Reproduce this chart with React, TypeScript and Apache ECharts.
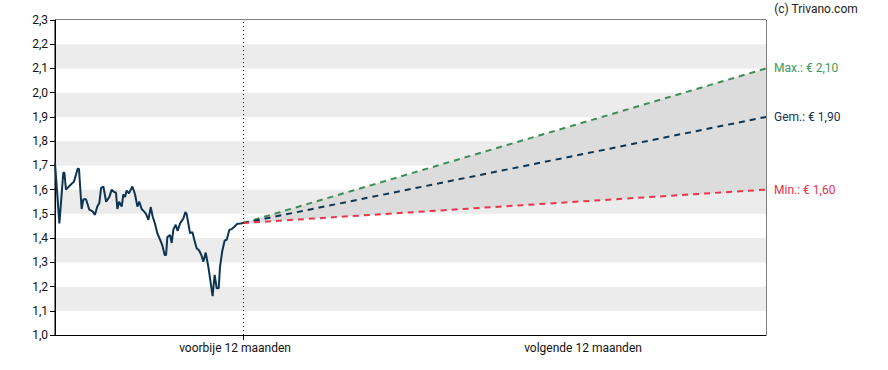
import React, { useEffect, useRef } from "react";
import * as echarts from "echarts";

// x in months since start of the past 12-month window
const historyMonths = [
  0, 0.28, 0.53, 0.6, 0.7, 1.0, 1.21, 1.45, 1.53, 1.7, 1.81, 1.98, 2.19, 2.4, 2.55, 2.7, 2.83, 2.94, 3.09,
  3.26, 3.47, 3.62, 3.77, 3.89, 3.98, 4.09, 4.26, 4.36, 4.47, 4.57, 4.72, 4.94, 5.11, 5.26, 5.38, 5.53,
  5.68, 5.81, 5.96, 6.11, 6.23, 6.38, 6.53, 6.7, 6.85, 7.0, 7.09, 7.17, 7.34, 7.45, 7.55, 7.7, 7.83, 7.98,
  8.13, 8.19, 8.32, 8.4, 8.51, 8.62, 8.77, 8.89, 9.04, 9.19, 9.34, 9.47, 9.62, 9.79, 9.94, 10.06, 10.19,
  10.32, 10.45, 10.53, 10.68, 10.83, 10.96, 11.13, 11.28, 11.45, 11.64, 11.85, 12.0,
];
const historyPrices = [
  1.71, 1.46, 1.67, 1.67, 1.6, 1.62, 1.633, 1.686, 1.686, 1.52, 1.56, 1.56, 1.517, 1.51, 1.496, 1.53, 1.545,
  1.606, 1.613, 1.55, 1.57, 1.6, 1.59, 1.588, 1.52, 1.55, 1.53, 1.58, 1.57, 1.596, 1.585, 1.613, 1.58, 1.53,
  1.55, 1.52, 1.51, 1.5, 1.475, 1.528, 1.49, 1.46, 1.42, 1.395, 1.37, 1.33, 1.33, 1.404, 1.413, 1.38, 1.434,
  1.455, 1.43, 1.46, 1.475, 1.48, 1.507, 1.5, 1.46, 1.42, 1.425, 1.393, 1.358, 1.35, 1.33, 1.303, 1.34, 1.28,
  1.214, 1.16, 1.248, 1.193, 1.193, 1.28, 1.348, 1.39, 1.393, 1.434, 1.437, 1.447, 1.459, 1.46, 1.462,
];

const forecastStart = 12;
const forecastEnd = 45.38;
const lastPrice = 1.462;
const targetMax = 2.1;
const targetAvg = 1.9;
const targetMin = 1.6;

const yTicks = { min: 1.0, max: 2.3, interval: 0.1 };
const xLabelPositions = [11.49, 33.7];
const xLabelTexts = ["voorbije 12 maanden", "volgende 12 maanden"];
const dividerMonth = 12;

const FONT = "Roboto";
const fmtEuro = (v: number) => "€ " + v.toFixed(2).replace(".", ",");

export default function App() {
  const ref = useRef<HTMLDivElement>(null);
  useEffect(() => {
    if (!ref.current) return;
    const chart = echarts.init(ref.current, null, { renderer: "svg" });
    const history = historyMonths.map((m, i) => [m, historyPrices[i]]);
    const mk = (target: number) => [
      [forecastStart, lastPrice],
      [forecastEnd, target],
    ];
    const dashed = (name: string, target: number, color: string, labelColor: string, label: string) => ({
      type: "line",
      name,
      data: mk(target),
      symbol: "none",
      z: 4,
      lineStyle: { color, width: 2, type: [6, 5] },
      endLabel: {
        show: true,
        distance: 8,
        color: labelColor,
        fontFamily: FONT,
        fontSize: 12,
        formatter: () => label + fmtEuro(target),
      },
    });
    chart.setOption({
      animation: false,
      textStyle: { fontFamily: FONT },
      grid: {
        left: 55,
        top: 20,
        right: 122,
        bottom: 35,
        show: true,
        borderColor: "#000",
        borderWidth: 1,
        backgroundColor: "transparent",
      },
      graphic: [
        {
          type: "text",
          right: 30,
          top: 3,
          style: { text: "(c) Trivano.com", fill: "#222", fontFamily: FONT, fontSize: 12 },
        },
      ],
      xAxis: {
        type: "value",
        min: 0,
        max: forecastEnd,
        splitLine: { show: false },
        axisLine: { show: true, lineStyle: { color: "#000" } },
        axisTick: {
          show: true,
          customValues: [dividerMonth],
          length: 5,
          lineStyle: { color: "#000" },
        },
        axisLabel: {
          customValues: xLabelPositions,
          formatter: (v: number) => {
            const idx = xLabelPositions.findIndex((p) => Math.abs(p - v) < 0.01);
            return idx >= 0 ? xLabelTexts[idx] : "";
          },
          color: "#111",
          fontFamily: FONT,
          fontSize: 12,
          margin: 7,
        },
      },
      yAxis: {
        type: "value",
        min: yTicks.min,
        max: yTicks.max,
        interval: yTicks.interval,
        axisLine: { show: true, lineStyle: { color: "#000" } },
        axisTick: { show: true, length: 5, lineStyle: { color: "#000" } },
        splitLine: { show: false },
        splitArea: { show: true, areaStyle: { color: ["#ffffff", "#ececec"] } },
        axisLabel: {
          formatter: (v: number) => v.toFixed(1).replace(".", ","),
          color: "#111",
          fontFamily: FONT,
          fontSize: 12,
          margin: 7,
        },
      },
      series: [
        {
          type: "custom",
          name: "band",
          z: 2,
          silent: true,
          data: [[forecastStart, lastPrice, forecastEnd, targetMin, targetMax]],
          renderItem: (params: any, api: any) => {
            const p0 = api.coord([api.value(0), api.value(1)]);
            const pMax = api.coord([api.value(2), api.value(4)]);
            const pMin = api.coord([api.value(2), api.value(3)]);
            return {
              type: "polygon",
              shape: { points: [p0, pMax, pMin] },
              style: { fill: "#dcdcdc" },
            };
          },
        },
        {
          type: "line",
          name: "koers",
          data: history,
          symbol: "none",
          z: 5,
          lineStyle: { color: "#0d3553", width: 2 },
          markLine: {
            silent: true,
            symbol: "none",
            label: { show: false },
            lineStyle: { color: "#000", type: [1, 3], width: 1 },
            data: [{ xAxis: dividerMonth }],
          },
        },
        dashed("max", targetMax, "#3e8c57", "#3b9a5c", "Max.: "),
        dashed("gem", targetAvg, "#0d3553", "#13324f", "Gem.: "),
        dashed("min", targetMin, "#e8364b", "#e8304a", "Min.: "),
      ],
    });
    return () => chart.dispose();
  }, []);
  return <div ref={ref} style={{ width: 888, height: 370, position: "absolute", left: 0, top: 0 }} />;
}
